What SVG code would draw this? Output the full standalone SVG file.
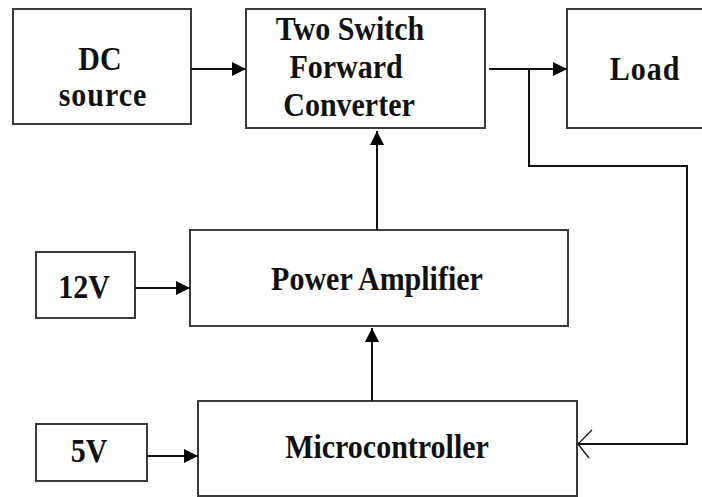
<svg xmlns="http://www.w3.org/2000/svg" width="702" height="497" viewBox="0 0 702 497">
<defs>
<style>
.box{fill:#fff;stroke:#3a3a3a;stroke-width:2}
.lbl{font-family:"Liberation Serif","Times New Roman",serif;font-weight:bold;font-size:30px;fill:#111;text-anchor:middle}
.wire{fill:none;stroke:#111;stroke-width:2}
</style>
<marker id="ah" markerUnits="userSpaceOnUse" markerWidth="16" markerHeight="16" viewBox="0 0 16 16" refX="15" refY="8" orient="auto">
<path d="M1,1 L15,8 L1,15 Z" fill="#000"/>
</marker>
<marker id="open" markerUnits="userSpaceOnUse" markerWidth="18" markerHeight="30" viewBox="0 0 18 30" refX="17" refY="15" orient="auto">
<path d="M6,1 L17,15 L3,29" fill="none" stroke="#111" stroke-width="1.3"/>
</marker>
</defs>
<rect width="702" height="497" fill="#fff"/>
<g id="dc-source">
<rect class="box" x="13" y="9" width="178" height="115"/>
<text class="lbl" transform="translate(100,70) scale(1,1.1)">DC</text>
<text class="lbl" transform="translate(103,106) scale(1,1.1)" letter-spacing="1">source</text>
</g>
<g id="converter">
<rect class="box" x="246" y="9" width="239" height="119"/>
<text class="lbl" transform="translate(350,40) scale(1,1.1)">Two Switch</text>
<text class="lbl" transform="translate(346,78) scale(1,1.1)">Forward</text>
<text class="lbl" transform="translate(349,116) scale(1,1.1)">Converter</text>
</g>
<g id="load">
<rect class="box" x="567" y="9" width="150" height="119"/>
<text class="lbl" transform="translate(645,80) scale(1,1.1)" letter-spacing="1">Load</text>
</g>
<g id="v12">
<rect class="box" x="36" y="252" width="99" height="66"/>
<text class="lbl" transform="translate(84,298) scale(1,1.1)">12V</text>
</g>
<g id="power-amplifier">
<rect class="box" x="190" y="230" width="378" height="96"/>
<text class="lbl" transform="translate(377,290) scale(1,1.1)">Power Amplifier</text>
</g>
<g id="v5">
<rect class="box" x="36" y="424" width="111" height="57"/>
<text class="lbl" transform="translate(89,462) scale(1,1.1)">5V</text>
</g>
<g id="microcontroller">
<rect class="box" x="198" y="401" width="379" height="95"/>
<text class="lbl" transform="translate(387,458) scale(1,1.1)">Microcontroller</text>
</g>
<g id="connectors">
<line class="wire" x1="191" y1="69" x2="246" y2="69" marker-end="url(#ah)"/>
<line class="wire" x1="489" y1="69" x2="567" y2="69" marker-end="url(#ah)"/>
<line class="wire" x1="377" y1="230" x2="377" y2="131" marker-end="url(#ah)"/>
<line class="wire" x1="135" y1="288" x2="190" y2="288" marker-end="url(#ah)"/>
<line class="wire" x1="372" y1="401" x2="372" y2="328" marker-end="url(#ah)"/>
<line class="wire" x1="147" y1="456" x2="198" y2="456" marker-end="url(#ah)"/>
<polyline class="wire" points="529,69 529,166 687,166 687,444 578,444" marker-end="url(#open)"/>
</g>
</svg>
